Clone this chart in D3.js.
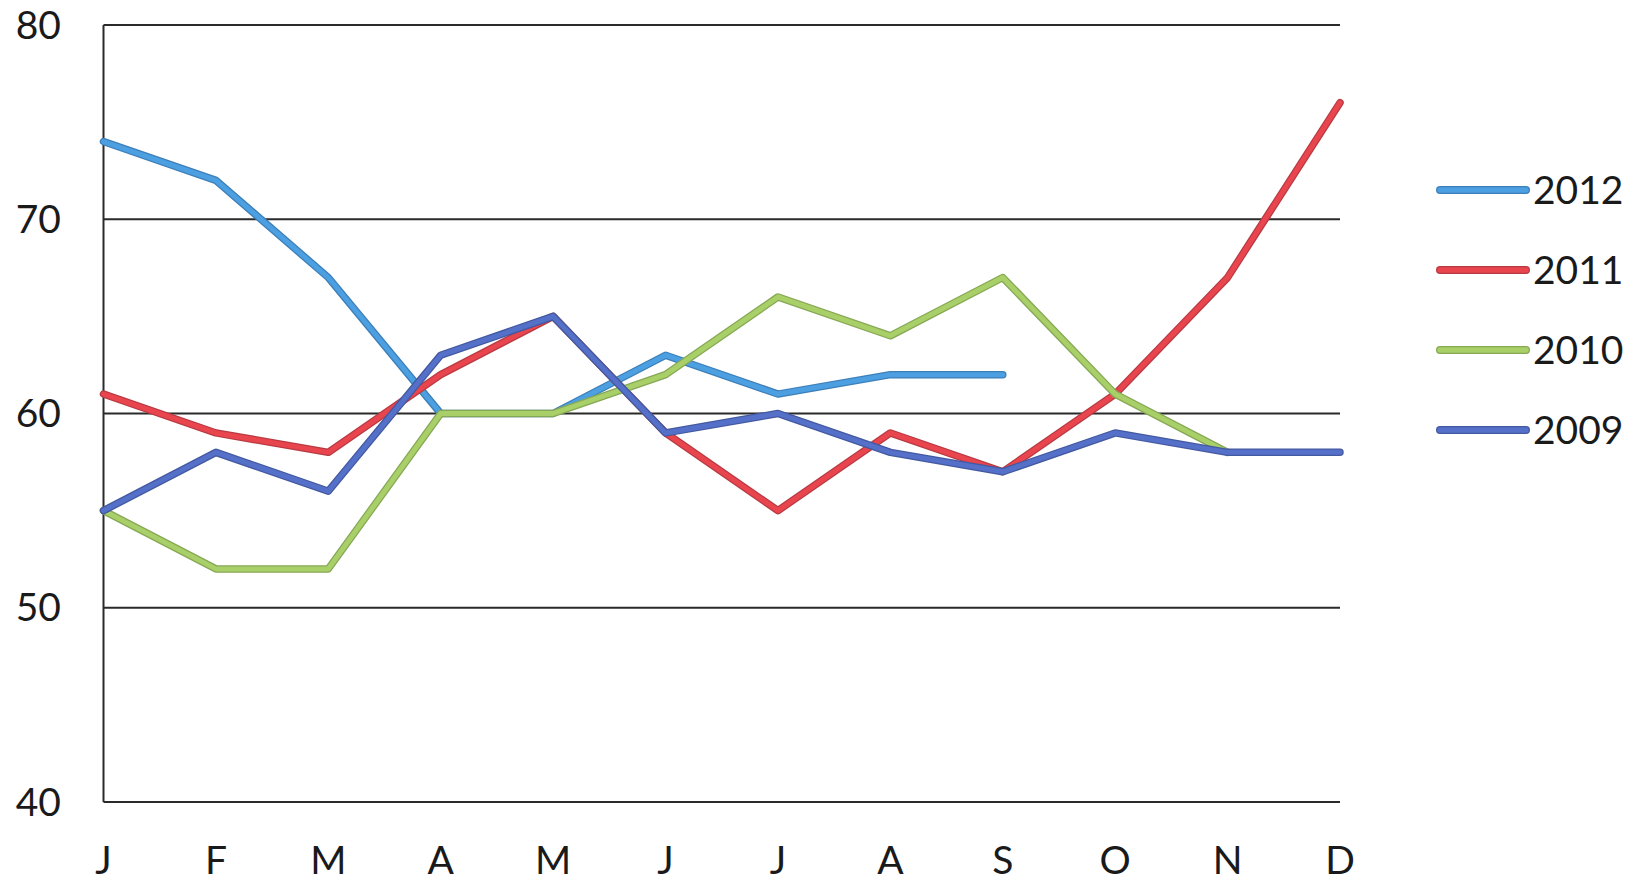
<!DOCTYPE html>
<html><head><meta charset="utf-8">
<script src="https://cdn.jsdelivr.net/npm/d3@7"></script>
<style>html,body{margin:0;padding:0;background:#fff}</style>
</head><body>
<svg id="c" width="1640" height="882"></svg>
<script>
const months = ["J","F","M","A","M","J","J","A","S","O","N","D"];
const yTicks = [40,50,60,70,80];
const series = ["2012","2011","2010","2009"];
const colors = ["#4c9fe0","#e8454e","#a8cf68","#5470c8"];
const edges = ["#3d7fb8","#b83a42","#86a855","#4359a0"];
const v2012 = [74,72,67,60,60,63,61,62,62];
const v2011 = [61,59,58,62,65,59,55,59,57,61,67,76];
const v2010 = [55,52,52,60,60,62,66,64,67,61,58];
const v2009 = [55,58,56,63,65,59,60,58,57,59,58,58];
const values = [v2012,v2011,v2010,v2009];

const svg = d3.select("#c");
const font = "Lato, 'Open Sans', sans-serif";
const x = d3.scalePoint().domain(d3.range(12)).range([103.5,1340]);
const y = d3.scaleLinear().domain([40,80]).range([802,25]);

// gridlines
svg.append("g").selectAll("line").data(yTicks).join("line")
  .attr("x1",103.5).attr("x2",1340)
  .attr("y1",d=>y(d)).attr("y2",d=>y(d))
  .attr("stroke","#2a2a2a").attr("stroke-width",2.2);
svg.append("line").attr("x1",103.5).attr("x2",103.5).attr("y1",y(80)).attr("y2",y(40))
  .attr("stroke","#2a2a2a").attr("stroke-width",2);

// y labels
svg.append("g").selectAll("text").data(yTicks).join("text")
  .attr("x",61).attr("y",d=>y(d)).attr("dy","0.35em").attr("text-anchor","end")
  .attr("font-family",font).attr("font-size",39).attr("fill","#1a1a1a").text(d=>d);
// x labels
svg.append("g").selectAll("text").data(months).join("text")
  .attr("x",(d,i)=>x(i)).attr("y",860).attr("dy","0.35em").attr("text-anchor","middle")
  .attr("font-family",font).attr("font-size",39).attr("fill","#1a1a1a").text(d=>d);

const line = d3.line().x((d,i)=>x(i)).y(d=>y(d));
series.forEach((s,k)=>{
  const g = svg.append("g");
  g.append("path").datum(values[k]).attr("d",line)
    .attr("fill","none").attr("stroke",edges[k]).attr("stroke-width",7.5)
    .attr("stroke-linejoin","round").attr("stroke-linecap","round");
  g.append("path").datum(values[k]).attr("d",line)
    .attr("fill","none").attr("stroke",colors[k]).attr("stroke-width",5)
    .attr("stroke-linejoin","round").attr("stroke-linecap","round");
});

// legend
const ly = d3.scalePoint().domain(series).range([190,430]);
series.forEach((s,k)=>{
  svg.append("line").attr("x1",1440).attr("x2",1526).attr("y1",ly(s)).attr("y2",ly(s))
    .attr("stroke",edges[k]).attr("stroke-width",8).attr("stroke-linecap","round");
  svg.append("line").attr("x1",1440).attr("x2",1526).attr("y1",ly(s)).attr("y2",ly(s))
    .attr("stroke",colors[k]).attr("stroke-width",5.5).attr("stroke-linecap","round");
  svg.append("text").attr("x",1533).attr("y",ly(s)).attr("dy","0.35em")
    .attr("font-family",font).attr("font-size",39).attr("fill","#1a1a1a").text(s);
});
</script>
</body></html>
